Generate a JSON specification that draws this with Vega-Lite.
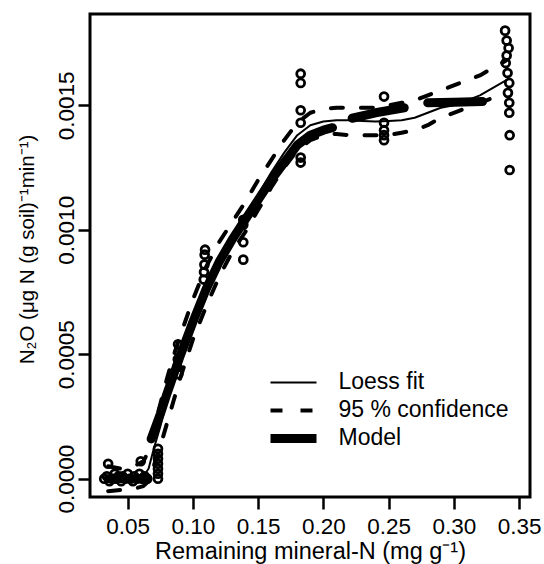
{
  "$schema": "https://vega.github.io/schema/vega-lite/v6.json",
  "width": 440,
  "height": 483,
  "autosize": {"type": "none"},
  "padding": {"left": 90, "top": 14, "right": 14, "bottom": 67},
  "background": "white",
  "config": {
    "font": "Liberation Sans",
    "view": {"stroke": "black", "strokeWidth": 3},
    "axis": {
      "domain": false, "grid": false, "tickColor": "black", "tickWidth": 2.5, "tickSize": 12,
      "labelColor": "black", "labelFontSize": 22.5, "labelFont": "Liberation Sans",
      "titleFontSize": 23.5, "titleColor": "black", "titleFontWeight": "normal", "titleFont": "Liberation Sans",
      "labelFlush": false, "labelOverlap": false
    },
    "legend": {
      "symbolType": "stroke", "symbolStrokeColor": "black", "symbolSize": 2116,
      "labelFontSize": 23, "labelColor": "black", "labelFont": "Liberation Sans", "labelLimit": 0,
      "labelOffset": 17.5, "rowPadding": 0, "clipHeight": 27.7, "padding": 0
    }
  },
  "datasets": {
    "points": [
      {"x": 0.032, "y": 0.0}, {"x": 0.034, "y": 0.00001}, {"x": 0.035, "y": 0.00006}, {"x": 0.036, "y": -0.00001},
      {"x": 0.038, "y": 0.0}, {"x": 0.040, "y": 0.00002}, {"x": 0.041, "y": 0.0}, {"x": 0.043, "y": 0.00001},
      {"x": 0.045, "y": -0.00001}, {"x": 0.046, "y": 0.00001}, {"x": 0.048, "y": 0.0}, {"x": 0.050, "y": 0.00002},
      {"x": 0.052, "y": 0.0}, {"x": 0.054, "y": -0.00001}, {"x": 0.055, "y": 0.00001}, {"x": 0.057, "y": 0.0},
      {"x": 0.059, "y": 0.00002}, {"x": 0.060, "y": 0.00007}, {"x": 0.061, "y": 0.0}, {"x": 0.063, "y": 0.00001},
      {"x": 0.065, "y": 0.0},
      {"x": 0.0732, "y": 0.0}, {"x": 0.0732, "y": 0.00002}, {"x": 0.0732, "y": 0.00004}, {"x": 0.0732, "y": 0.00006},
      {"x": 0.0732, "y": 0.00008}, {"x": 0.0732, "y": 0.0001}, {"x": 0.0732, "y": 0.00012},
      {"x": 0.0886, "y": 0.00054}, {"x": 0.0890, "y": 0.00051}, {"x": 0.0884, "y": 0.00048}, {"x": 0.0880, "y": 0.00045}, {"x": 0.0888, "y": 0.00042},
      {"x": 0.1093, "y": 0.00092}, {"x": 0.1090, "y": 0.0009}, {"x": 0.1088, "y": 0.00086}, {"x": 0.1085, "y": 0.00083}, {"x": 0.1083, "y": 0.0008},
      {"x": 0.1386, "y": 0.00104}, {"x": 0.1386, "y": 0.00102}, {"x": 0.1386, "y": 0.00095}, {"x": 0.1386, "y": 0.00088},
      {"x": 0.1826, "y": 0.001627}, {"x": 0.1826, "y": 0.00159}, {"x": 0.1826, "y": 0.00148}, {"x": 0.1826, "y": 0.00143},
      {"x": 0.1826, "y": 0.00129}, {"x": 0.1826, "y": 0.00127},
      {"x": 0.2465, "y": 0.001535}, {"x": 0.2465, "y": 0.00143}, {"x": 0.2465, "y": 0.0014}, {"x": 0.2465, "y": 0.00138}, {"x": 0.2465, "y": 0.00136},
      {"x": 0.3393, "y": 0.0018}, {"x": 0.3405, "y": 0.00176}, {"x": 0.3420, "y": 0.00173}, {"x": 0.3405, "y": 0.0017},
      {"x": 0.3398, "y": 0.00167}, {"x": 0.3412, "y": 0.00163}, {"x": 0.3425, "y": 0.00159}, {"x": 0.3415, "y": 0.00155},
      {"x": 0.3425, "y": 0.00151}, {"x": 0.3425, "y": 0.00147}, {"x": 0.3428, "y": 0.00138}, {"x": 0.3428, "y": 0.00124}
    ],
    "lines": [
      {"series": "Loess fit", "line": "loess", "x": 0.035, "y": 0.000002},
      {"series": "Loess fit", "line": "loess", "x": 0.045, "y": 0.0},
      {"series": "Loess fit", "line": "loess", "x": 0.055, "y": 0.000003},
      {"series": "Loess fit", "line": "loess", "x": 0.062, "y": 0.00001},
      {"series": "Loess fit", "line": "loess", "x": 0.066, "y": 0.00004},
      {"series": "Loess fit", "line": "loess", "x": 0.07, "y": 0.00012},
      {"series": "Loess fit", "line": "loess", "x": 0.075, "y": 0.00021},
      {"series": "Loess fit", "line": "loess", "x": 0.08, "y": 0.00031},
      {"series": "Loess fit", "line": "loess", "x": 0.085, "y": 0.0004},
      {"series": "Loess fit", "line": "loess", "x": 0.09, "y": 0.00048},
      {"series": "Loess fit", "line": "loess", "x": 0.095, "y": 0.00056},
      {"series": "Loess fit", "line": "loess", "x": 0.10, "y": 0.00064},
      {"series": "Loess fit", "line": "loess", "x": 0.105, "y": 0.00071},
      {"series": "Loess fit", "line": "loess", "x": 0.11, "y": 0.00077},
      {"series": "Loess fit", "line": "loess", "x": 0.115, "y": 0.00083},
      {"series": "Loess fit", "line": "loess", "x": 0.12, "y": 0.00088},
      {"series": "Loess fit", "line": "loess", "x": 0.13, "y": 0.00097},
      {"series": "Loess fit", "line": "loess", "x": 0.14, "y": 0.00105},
      {"series": "Loess fit", "line": "loess", "x": 0.15, "y": 0.00114},
      {"series": "Loess fit", "line": "loess", "x": 0.16, "y": 0.00123},
      {"series": "Loess fit", "line": "loess", "x": 0.17, "y": 0.00131},
      {"series": "Loess fit", "line": "loess", "x": 0.18, "y": 0.00138},
      {"series": "Loess fit", "line": "loess", "x": 0.19, "y": 0.00142},
      {"series": "Loess fit", "line": "loess", "x": 0.20, "y": 0.001435},
      {"series": "Loess fit", "line": "loess", "x": 0.21, "y": 0.00144},
      {"series": "Loess fit", "line": "loess", "x": 0.22, "y": 0.00144},
      {"series": "Loess fit", "line": "loess", "x": 0.23, "y": 0.001437},
      {"series": "Loess fit", "line": "loess", "x": 0.24, "y": 0.001435},
      {"series": "Loess fit", "line": "loess", "x": 0.25, "y": 0.001437},
      {"series": "Loess fit", "line": "loess", "x": 0.26, "y": 0.00144},
      {"series": "Loess fit", "line": "loess", "x": 0.27, "y": 0.00145},
      {"series": "Loess fit", "line": "loess", "x": 0.28, "y": 0.00147},
      {"series": "Loess fit", "line": "loess", "x": 0.29, "y": 0.00149},
      {"series": "Loess fit", "line": "loess", "x": 0.30, "y": 0.0015},
      {"series": "Loess fit", "line": "loess", "x": 0.31, "y": 0.00152},
      {"series": "Loess fit", "line": "loess", "x": 0.32, "y": 0.00154},
      {"series": "Loess fit", "line": "loess", "x": 0.33, "y": 0.00157},
      {"series": "Loess fit", "line": "loess", "x": 0.34, "y": 0.0016},

      {"series": "95 % confidence", "line": "upper", "x": 0.035, "y": 0.00005},
      {"series": "95 % confidence", "line": "upper", "x": 0.045, "y": 0.00004},
      {"series": "95 % confidence", "line": "upper", "x": 0.055, "y": 0.00005},
      {"series": "95 % confidence", "line": "upper", "x": 0.062, "y": 0.00007},
      {"series": "95 % confidence", "line": "upper", "x": 0.066, "y": 0.00011},
      {"series": "95 % confidence", "line": "upper", "x": 0.07, "y": 0.0002},
      {"series": "95 % confidence", "line": "upper", "x": 0.075, "y": 0.0003},
      {"series": "95 % confidence", "line": "upper", "x": 0.08, "y": 0.0004},
      {"series": "95 % confidence", "line": "upper", "x": 0.085, "y": 0.00049},
      {"series": "95 % confidence", "line": "upper", "x": 0.09, "y": 0.00057},
      {"series": "95 % confidence", "line": "upper", "x": 0.10, "y": 0.00072},
      {"series": "95 % confidence", "line": "upper", "x": 0.11, "y": 0.00085},
      {"series": "95 % confidence", "line": "upper", "x": 0.12, "y": 0.00095},
      {"series": "95 % confidence", "line": "upper", "x": 0.13, "y": 0.00103},
      {"series": "95 % confidence", "line": "upper", "x": 0.14, "y": 0.00111},
      {"series": "95 % confidence", "line": "upper", "x": 0.15, "y": 0.0012},
      {"series": "95 % confidence", "line": "upper", "x": 0.16, "y": 0.00128},
      {"series": "95 % confidence", "line": "upper", "x": 0.17, "y": 0.00136},
      {"series": "95 % confidence", "line": "upper", "x": 0.18, "y": 0.00143},
      {"series": "95 % confidence", "line": "upper", "x": 0.19, "y": 0.00147},
      {"series": "95 % confidence", "line": "upper", "x": 0.20, "y": 0.001485},
      {"series": "95 % confidence", "line": "upper", "x": 0.21, "y": 0.00149},
      {"series": "95 % confidence", "line": "upper", "x": 0.22, "y": 0.00149},
      {"series": "95 % confidence", "line": "upper", "x": 0.23, "y": 0.00149},
      {"series": "95 % confidence", "line": "upper", "x": 0.24, "y": 0.00149},
      {"series": "95 % confidence", "line": "upper", "x": 0.25, "y": 0.0015},
      {"series": "95 % confidence", "line": "upper", "x": 0.26, "y": 0.00151},
      {"series": "95 % confidence", "line": "upper", "x": 0.27, "y": 0.00152},
      {"series": "95 % confidence", "line": "upper", "x": 0.28, "y": 0.00154},
      {"series": "95 % confidence", "line": "upper", "x": 0.29, "y": 0.00156},
      {"series": "95 % confidence", "line": "upper", "x": 0.30, "y": 0.00158},
      {"series": "95 % confidence", "line": "upper", "x": 0.31, "y": 0.0016},
      {"series": "95 % confidence", "line": "upper", "x": 0.32, "y": 0.00162},
      {"series": "95 % confidence", "line": "upper", "x": 0.33, "y": 0.00165},
      {"series": "95 % confidence", "line": "upper", "x": 0.34, "y": 0.00168},

      {"series": "95 % confidence", "line": "lower", "x": 0.035, "y": -0.00005},
      {"series": "95 % confidence", "line": "lower", "x": 0.045, "y": -0.000045},
      {"series": "95 % confidence", "line": "lower", "x": 0.055, "y": -0.00004},
      {"series": "95 % confidence", "line": "lower", "x": 0.062, "y": -0.00003},
      {"series": "95 % confidence", "line": "lower", "x": 0.066, "y": -0.00001},
      {"series": "95 % confidence", "line": "lower", "x": 0.07, "y": 0.00005},
      {"series": "95 % confidence", "line": "lower", "x": 0.075, "y": 0.00013},
      {"series": "95 % confidence", "line": "lower", "x": 0.08, "y": 0.00022},
      {"series": "95 % confidence", "line": "lower", "x": 0.085, "y": 0.00031},
      {"series": "95 % confidence", "line": "lower", "x": 0.09, "y": 0.0004},
      {"series": "95 % confidence", "line": "lower", "x": 0.10, "y": 0.00056},
      {"series": "95 % confidence", "line": "lower", "x": 0.11, "y": 0.00069},
      {"series": "95 % confidence", "line": "lower", "x": 0.12, "y": 0.00081},
      {"series": "95 % confidence", "line": "lower", "x": 0.13, "y": 0.00091},
      {"series": "95 % confidence", "line": "lower", "x": 0.14, "y": 0.00099},
      {"series": "95 % confidence", "line": "lower", "x": 0.15, "y": 0.00108},
      {"series": "95 % confidence", "line": "lower", "x": 0.16, "y": 0.00117},
      {"series": "95 % confidence", "line": "lower", "x": 0.17, "y": 0.00125},
      {"series": "95 % confidence", "line": "lower", "x": 0.18, "y": 0.00132},
      {"series": "95 % confidence", "line": "lower", "x": 0.19, "y": 0.00136},
      {"series": "95 % confidence", "line": "lower", "x": 0.20, "y": 0.00138},
      {"series": "95 % confidence", "line": "lower", "x": 0.21, "y": 0.001385},
      {"series": "95 % confidence", "line": "lower", "x": 0.22, "y": 0.00138},
      {"series": "95 % confidence", "line": "lower", "x": 0.23, "y": 0.00138},
      {"series": "95 % confidence", "line": "lower", "x": 0.24, "y": 0.00138},
      {"series": "95 % confidence", "line": "lower", "x": 0.25, "y": 0.00138},
      {"series": "95 % confidence", "line": "lower", "x": 0.26, "y": 0.00139},
      {"series": "95 % confidence", "line": "lower", "x": 0.27, "y": 0.0014},
      {"series": "95 % confidence", "line": "lower", "x": 0.28, "y": 0.00142},
      {"series": "95 % confidence", "line": "lower", "x": 0.29, "y": 0.00145},
      {"series": "95 % confidence", "line": "lower", "x": 0.30, "y": 0.00147},
      {"series": "95 % confidence", "line": "lower", "x": 0.31, "y": 0.00149},
      {"series": "95 % confidence", "line": "lower", "x": 0.32, "y": 0.00151},
      {"series": "95 % confidence", "line": "lower", "x": 0.33, "y": 0.00153},
      {"series": "95 % confidence", "line": "lower", "x": 0.34, "y": 0.00155},

      {"series": "Model", "line": "model0", "x": 0.035, "y": 0.0},
      {"series": "Model", "line": "model0", "x": 0.065, "y": 0.0},
      {"series": "Model", "line": "model1", "x": 0.068, "y": 0.00016},
      {"series": "Model", "line": "model1", "x": 0.075, "y": 0.00026},
      {"series": "Model", "line": "model1", "x": 0.08, "y": 0.00034},
      {"series": "Model", "line": "model1", "x": 0.09, "y": 0.00049},
      {"series": "Model", "line": "model1", "x": 0.10, "y": 0.00063},
      {"series": "Model", "line": "model1", "x": 0.11, "y": 0.00076},
      {"series": "Model", "line": "model1", "x": 0.12, "y": 0.00087},
      {"series": "Model", "line": "model1", "x": 0.13, "y": 0.00096},
      {"series": "Model", "line": "model1", "x": 0.14, "y": 0.00104},
      {"series": "Model", "line": "model1", "x": 0.15, "y": 0.00112},
      {"series": "Model", "line": "model1", "x": 0.16, "y": 0.0012},
      {"series": "Model", "line": "model1", "x": 0.17, "y": 0.00127},
      {"series": "Model", "line": "model1", "x": 0.18, "y": 0.00134},
      {"series": "Model", "line": "model1", "x": 0.19, "y": 0.00138},
      {"series": "Model", "line": "model1", "x": 0.20, "y": 0.0014},
      {"series": "Model", "line": "model1", "x": 0.207, "y": 0.00141},
      {"series": "Model", "line": "model2", "x": 0.222, "y": 0.001448},
      {"series": "Model", "line": "model2", "x": 0.24, "y": 0.00147},
      {"series": "Model", "line": "model2", "x": 0.262, "y": 0.00149},
      {"series": "Model", "line": "model3", "x": 0.28, "y": 0.00151},
      {"series": "Model", "line": "model3", "x": 0.30, "y": 0.001512},
      {"series": "Model", "line": "model3", "x": 0.322, "y": 0.001515}
    ]
  },
  "encoding": {
    "x": {
      "field": "x", "type": "quantitative",
      "scale": {"domain": [0.0211, 0.3584], "nice": false, "zero": false},
      "axis": {
        "values": [0.05, 0.1, 0.15, 0.2, 0.25, 0.3, 0.35], "format": ".2f",
        "title": "Remaining mineral-N (mg g⁻¹)",
        "labelBaseline": "alphabetic", "labelPadding": 24,
        "titleBaseline": "alphabetic", "titleY": 61.5, "titleX": 220
      }
    },
    "y": {
      "field": "y", "type": "quantitative",
      "scale": {"domain": [-0.0000735, 0.0018668], "nice": false, "zero": false},
      "axis": {
        "values": [0, 0.0005, 0.001, 0.0015], "format": ".4f",
        "labelAngle": -90, "labelAlign": "center", "labelBaseline": "alphabetic", "labelPadding": 5,
        "title": "N₂O (μg N (g soil)⁻¹min⁻¹)", "titleFontSize": 20.5,
        "titleBaseline": "alphabetic", "titleX": -57, "titleY": 235, "titleAngle": 270
      }
    }
  },
  "layer": [
    {
      "data": {"name": "points"},
      "mark": {"type": "point", "shape": "circle", "filled": false, "size": 62, "strokeWidth": 2.8, "color": "black", "opacity": 1}
    },
    {
      "data": {"name": "lines"},
      "transform": [{"filter": "datum.series !== '95 % confidence'"}],
      "mark": {"type": "line", "color": "black", "strokeCap": "round", "strokeJoin": "round"},
      "encoding": {
        "detail": {"field": "line", "type": "nominal"},
        "strokeWidth": {
          "field": "series", "type": "nominal",
          "scale": {"type": "ordinal", "domain": ["Loess fit", "95 % confidence", "Model"], "range": [2, 4, 9]},
          "legend": {
            "title": null, "orient": "none", "legendX": 176, "legendY": 354.6,
            "symbolDash": [1, 0],
            "encode": {"symbols": {"update": {"strokeDash": {"signal": "datum.value === '95 % confidence' ? [12, 18] : [1, 0]"}}}}
          }
        }
      }
    },
    {
      "data": {"name": "lines"},
      "transform": [{"filter": "datum.series === '95 % confidence'"}],
      "mark": {"type": "line", "color": "black", "strokeCap": "round", "strokeJoin": "round", "strokeDash": [12, 18]},
      "encoding": {
        "detail": {"field": "line", "type": "nominal"},
        "strokeWidth": {
          "field": "series", "type": "nominal",
          "scale": {"type": "ordinal", "domain": ["Loess fit", "95 % confidence", "Model"], "range": [2, 4, 9]},
          "legend": {
            "title": null, "orient": "none", "legendX": 176, "legendY": 354.6,
            "symbolDash": [1, 0],
            "encode": {"symbols": {"update": {"strokeDash": {"signal": "datum.value === '95 % confidence' ? [12, 18] : [1, 0]"}}}}
          }
        }
      }
    }
  ]
}
